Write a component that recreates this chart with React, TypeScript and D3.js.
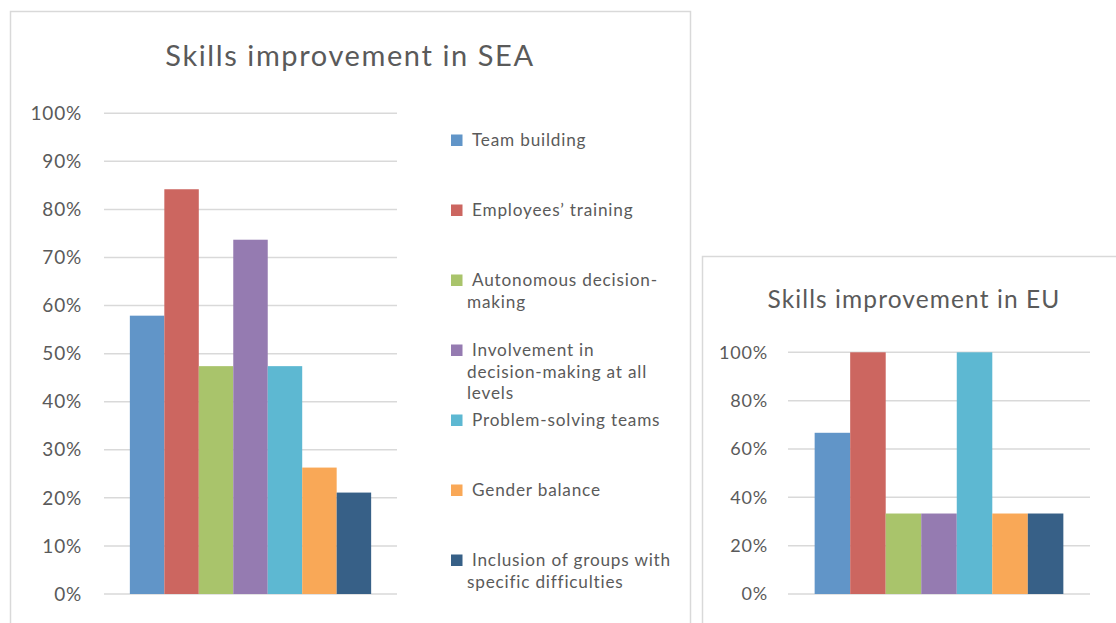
import { useEffect, useRef } from 'react';
import * as d3 from 'd3';

const SERIES = [
  'Team building',
  'Employees’ training',
  'Autonomous decision-making',
  'Involvement in decision-making at all levels',
  'Problem-solving teams',
  'Gender balance',
  'Inclusion of groups with specific difficulties',
];

// legend text as it wraps in the original
const LEGEND_LINES = [
  ['Team building'],
  ['Employees’ training'],
  ['Autonomous decision-', 'making'],
  ['Involvement in', 'decision-making at all', 'levels'],
  ['Problem-solving teams'],
  ['Gender balance'],
  ['Inclusion of groups with', 'specific difficulties'],
];

const COLORS = ['#6195c8', '#cc6660', '#a9c46b', '#957bb1', '#5db8d2', '#f9a857', '#376087'];

const SEA_VALUES = [0.579, 0.842, 0.474, 0.737, 0.474, 0.263, 0.211];
const EU_VALUES = [0.667, 1.0, 0.333, 0.333, 1.0, 0.333, 0.333];

const SEA_TICKS = [0, 0.1, 0.2, 0.3, 0.4, 0.5, 0.6, 0.7, 0.8, 0.9, 1.0];
const EU_TICKS = [0, 0.2, 0.4, 0.6, 0.8, 1.0];

const WIDTH = 1116;
const HEIGHT = 623;

const FONT = 'Lato, "Open Sans", sans-serif';
const TEXT = '#5a5a5a';
const GRID = '#d9d9d9';
const BORDER = '#d9d9d9';
const SPACING = '0.05em'; // Lato is narrower than the original font

interface PanelOpts {
  box: [number, number, number, number];
  title: string;
  titleX: number;
  titleY: number;
  titleSize: number;
  titleSpacing: string;
  plot: { left: number; right: number; top: number; bottom: number };
  values: number[];
  ticks: number[];
  tickX: number;
  tickSize: number;
}

export default function App() {
  const svgRef = useRef<SVGSVGElement>(null);

  useEffect(() => {
    const svg = d3.select(svgRef.current);
    svg.selectAll('*').remove();
    svg.style('font-family', FONT).style('letter-spacing', SPACING);

    const drawPanel = (o: PanelOpts) => {
      const g = svg.append('g');

      g.append('rect')
        .attr('x', o.box[0])
        .attr('y', o.box[1])
        .attr('width', o.box[2])
        .attr('height', o.box[3])
        .attr('fill', '#fff')
        .attr('stroke', BORDER)
        .attr('stroke-width', 1.5);

      g.append('text')
        .attr('x', o.titleX)
        .attr('y', o.titleY)
        .attr('text-anchor', 'middle')
        .attr('fill', TEXT)
        .style('font-size', `${o.titleSize}px`)
        .style('letter-spacing', o.titleSpacing)
        .text(o.title);

      const y = d3.scaleLinear().domain([0, 1]).range([o.plot.bottom, o.plot.top]);
      const x = d3
        .scaleBand<string>()
        .domain(SERIES)
        .range([o.plot.left, o.plot.right])
        .paddingInner(0)
        .paddingOuter(0.75);

      // gridlines + tick labels
      g.selectAll('line.grid')
        .data(o.ticks)
        .join('line')
        .attr('class', 'grid')
        .attr('x1', o.plot.left)
        .attr('x2', o.plot.right)
        .attr('y1', (d) => y(d))
        .attr('y2', (d) => y(d))
        .attr('stroke', GRID)
        .attr('stroke-width', 1.5);

      g.selectAll('text.tick')
        .data(o.ticks)
        .join('text')
        .attr('class', 'tick')
        .attr('x', o.tickX)
        .attr('y', (d) => y(d))
        .attr('dy', '0.35em')
        .attr('text-anchor', 'end')
        .attr('fill', TEXT)
        .style('font-size', `${o.tickSize}px`)
        .text((d) => d3.format('.0%')(d));

      // bars
      g.selectAll('rect.bar')
        .data(o.values)
        .join('rect')
        .attr('class', 'bar')
        .attr('x', (_, i) => x(SERIES[i])!)
        .attr('width', x.bandwidth())
        .attr('y', (d) => y(d))
        .attr('height', (d) => y(0) - y(d))
        .attr('fill', (_, i) => COLORS[i]);
    };

    drawPanel({
      box: [10.5, 11.5, 680, 640],
      title: 'Skills improvement in SEA',
      titleX: 350,
      titleY: 66,
      titleSize: 29,
      titleSpacing: '0.055em',
      plot: { left: 104, right: 397, top: 113.3, bottom: 594 },
      values: SEA_VALUES,
      ticks: SEA_TICKS,
      tickX: 82,
      tickSize: 19,
    });

    // legend for the SEA chart
    const legend = svg.append('g');
    const LEGEND_TOP = 140;
    const LEGEND_STEP = 70;
    const LINE_H = 21.7;
    LEGEND_LINES.forEach((lines, i) => {
      const cy = LEGEND_TOP + i * LEGEND_STEP;
      legend
        .append('rect')
        .attr('x', 451)
        .attr('y', cy - 5.5)
        .attr('width', 11.5)
        .attr('height', 11.5)
        .attr('fill', COLORS[i]);
      lines.forEach((line, j) => {
        legend
          .append('text')
          .attr('x', j === 0 ? 472 : 467)
          .attr('y', cy + j * LINE_H)
          .attr('dy', '0.35em')
          .attr('fill', TEXT)
          .style('font-size', '17.2px')
          .text(line);
      });
    });

    drawPanel({
      box: [702.5, 256.5, 430, 400],
      title: 'Skills improvement in EU',
      titleX: 914,
      titleY: 308,
      titleSize: 24.5,
      titleSpacing: '0.045em',
      plot: { left: 788, right: 1090, top: 352.3, bottom: 594 },
      values: EU_VALUES,
      ticks: EU_TICKS,
      tickX: 768,
      tickSize: 18,
    });
  }, []);

  return (
    <div style={{ position: 'fixed', left: 0, top: 0, background: '#fff' }}>
      <svg ref={svgRef} width={WIDTH} height={HEIGHT} style={{ display: 'block' }} />
    </div>
  );
}
